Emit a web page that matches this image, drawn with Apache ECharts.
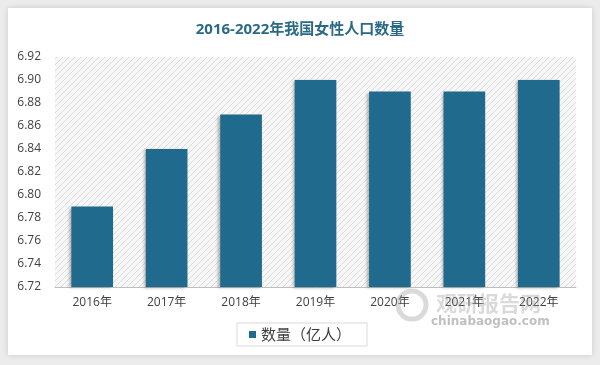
<!DOCTYPE html>
<html><head><meta charset="utf-8">
<script src="https://cdn.jsdelivr.net/npm/echarts@6/dist/echarts.min.js"></script>
<style>html,body{margin:0;padding:0;background:#ececec;}#c{width:600px;height:365px;}</style>
</head><body><div id="c"></div>
<script>
const categories = ['2016年','2017年','2018年','2019年','2020年','2021年','2022年'];
const values = [6.79, 6.84, 6.87, 6.90, 6.89, 6.89, 6.90];
const seriesName = '数量（亿人）';
const titleText = '2016-2022年我国女性人口数量';

const pc = document.createElement('canvas');
pc.width = 6; pc.height = 6;
const g = pc.getContext('2d');
g.fillStyle = '#f7f7f7'; g.fillRect(0,0,6,6);
g.strokeStyle = '#dcdcdc'; g.lineWidth = 1;
g.beginPath(); g.moveTo(0,6); g.lineTo(6,0); g.moveTo(-1,1); g.lineTo(1,-1); g.moveTo(5,7); g.lineTo(7,5); g.stroke();

const chart = echarts.init(document.getElementById('c'), null, {renderer:'canvas'});
chart.setOption({
  backgroundColor: '#ececec',
  graphic: [
    {type:'rect', shape:{x:8,y:8,width:584,height:347}, style:{fill:'#ffffff', shadowBlur:6, shadowColor:'rgba(0,0,0,0.15)'}, z:-10},
    {type:'circle', shape:{cx:412, cy:305, r:14}, style:{fill:'none', stroke:'rgba(150,150,150,0.35)', lineWidth:5}, z:10},
    {type:'text', left:436, top:293, style:{text:'观研报告网', font:'bold 21px "Noto Sans CJK SC"', fill:'rgba(150,150,150,0.35)'}, z:10},
    {type:'text', left:431, top:316, style:{text:'chinabaogao.com', font:'bold 12px "DejaVu Sans"', fill:'rgba(130,130,130,0.5)'}, z:10}
  ],
  title: {
    text: titleText, left: 'center', top: 17,
    textStyle: {fontSize: 15, fontWeight: 'bold', color: '#2b6a87', fontFamily: '"Open Sans","Noto Sans CJK SC"'}
  },
  grid: {left: 55, right: 24, top: 57, bottom: 78, show: true, borderWidth: 0,
    backgroundColor: {image: pc, repeat: 'repeat'}},
  legend: {
    data: [seriesName], bottom: 19, left: 'center',
    itemWidth: 7, itemHeight: 7, icon: 'rect', itemGap: 3,
    padding: [4, 16, 4, 12], borderColor: '#d9d9d9', borderWidth: 1,
    textStyle: {fontSize: 15, color: '#404040', fontFamily: '"Noto Sans CJK SC"'}
  },
  xAxis: {
    type: 'category', data: categories,
    axisLine: {lineStyle: {color: '#bfbfbf'}}, axisTick: {show: false},
    axisLabel: {color: '#404040', fontSize: 12, margin: 10, fontFamily: '"Open Sans","Noto Sans CJK SC"'}
  },
  yAxis: {
    type: 'value', min: 6.72, max: 6.92, interval: 0.02,
    splitLine: {show: false}, axisLine: {show: false}, axisTick: {show: false},
    axisLabel: {color: '#404040', fontSize: 12, margin: 14, formatter: v => v.toFixed(2), fontFamily: '"Open Sans"'}
  },
  series: [{
    name: seriesName, type: 'bar', data: values, barWidth: '56%',
    itemStyle: {color: '#1f6a8d', shadowColor: 'rgba(0,0,0,0.3)', shadowBlur: 3, shadowOffsetX: -2, shadowOffsetY: 1}
  }]
});
</script></body></html>
